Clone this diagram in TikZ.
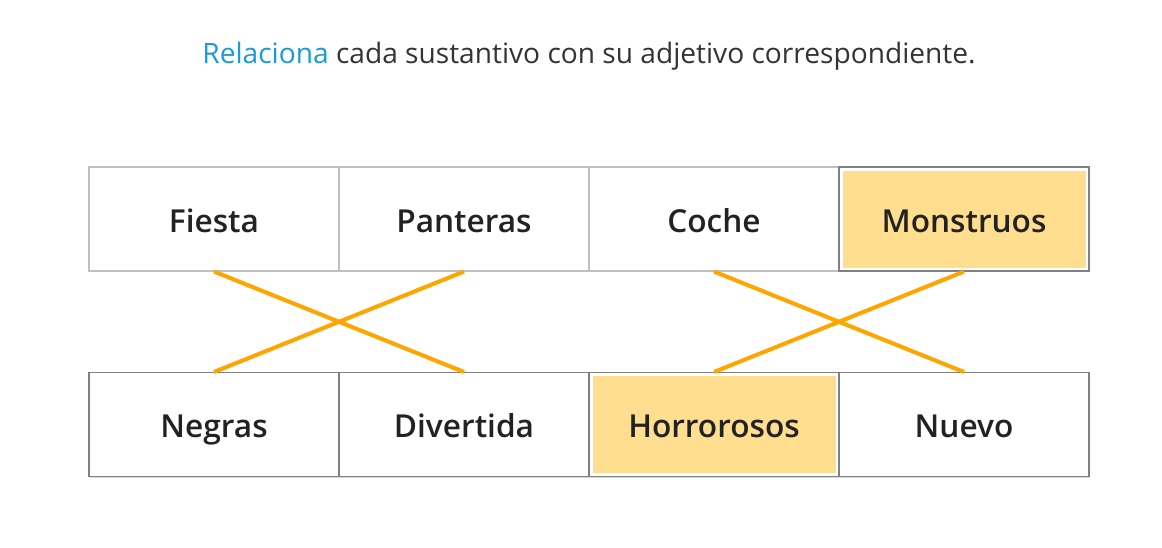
\documentclass[tikz,border=0pt]{standalone}
\usepackage{fontspec}
\setmainfont{Open Sans}
\IfFontExistsTF{Open Sans SemiBold}{\newfontfamily\labelfont{Open Sans SemiBold}}{%
  \IfFontExistsTF{Open Sans Semibold}{\newfontfamily\labelfont{Open Sans Semibold}}{%
    \newfontfamily\labelfont{Open Sans}[UprightFont=*,FakeBold=1.2]}}
\usetikzlibrary{shadows}
\definecolor{titleblue}{HTML}{1A9AD6}
\definecolor{titlegray}{HTML}{333333}
\definecolor{labelgray}{HTML}{222222}
\definecolor{hlfill}{HTML}{FFDE8F}
\definecolor{linkorange}{HTML}{FFA500}
\begin{document}
\begin{tikzpicture}[x=0.2mm,y=-0.2mm,
    cell/.style={draw=black!25,line width=0.6pt,minimum width=5cm,minimum height=2.08cm,
      inner sep=0pt,text height=3.1ex,text depth=0.3ex,
      font=\labelfont\fontsize{18}{21}\selectfont,text=labelgray},
    lowcell/.style={cell,draw=black!50,fill=white,
      drop shadow={shadow xshift=0.6pt,shadow yshift=-0.6pt,opacity=0.3}},
    picked/.style={lowcell,path picture={\fill[hlfill]
      ([xshift=0.07cm,yshift=-0.07cm]path picture bounding box.north west) rectangle
      ([xshift=-0.07cm,yshift=0.07cm]path picture bounding box.south east);}},
    link/.style={draw=linkorange,line width=2.3pt}]
    \useasboundingbox (0,0) rectangle (1162,547);

    \node[font=\fontsize{16}{19}\selectfont,text=titlegray] (title) at (589,56)
      {\textcolor{titleblue}{Relaciona} cada sustantivo con su adjetivo correspondiente.};

    \node[cell] (fiesta) at (214,219) {Fiesta};
    \node[cell] (panteras) at (464,219) {Panteras};
    \node[cell] (coche) at (714,219) {Coche};
    \node[picked] (monstruos) at (964,219) {Monstruos};

    \node[lowcell] (negras) at (214,424.5) {Negras};
    \node[lowcell] (divertida) at (464,424.5) {Divertida};
    \node[picked] (horrorosos) at (714,424.5) {Horrorosos};
    \node[lowcell] (nuevo) at (964,424.5) {Nuevo};

    \draw[link] (fiesta.south) -- (divertida.north);
    \draw[link] (panteras.south) -- (negras.north);
    \draw[link] (coche.south) -- (nuevo.north);
    \draw[link] (monstruos.south) -- (horrorosos.north);
\end{tikzpicture}
\end{document}
